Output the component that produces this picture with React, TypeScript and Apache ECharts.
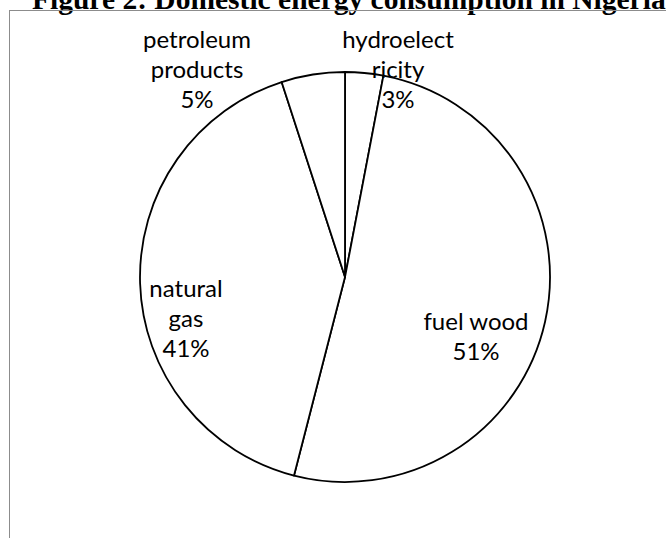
import React, { useEffect, useRef } from "react";
import * as echarts from "echarts";

const titleText = "Figure 2: Domestic energy consumption in Nigeria";
const categories = ["hydroelectricity", "fuel wood", "natural gas", "petroleum products"];
const labelTexts = ["hydroelect\nricity", "fuel wood", "natural\ngas", "petroleum\nproducts"];
const values = [3, 51, 41, 5];
const labelCenters: [number, number][] = [
  [398, 68],
  [476, 335],
  [186, 317],
  [197, 68],
];

export default function App() {
  const ref = useRef<HTMLDivElement>(null);
  useEffect(() => {
    if (!ref.current) return;
    const chart = echarts.init(ref.current, null, { renderer: "svg" });
    chart.setOption({
      animation: false,
      backgroundColor: "#ffffff",
      graphic: [
        {
          type: "text",
          x: 32,
          y: -16,
          style: {
            text: titleText,
            fill: "#000",
            font: "bold 29.5px 'Liberation Serif', 'Times New Roman', serif",
            verticalAlign: "top",
          },
          silent: true,
        },
        {
          type: "line",
          shape: { x1: 10, y1: 10.5, x2: 666, y2: 10.5 },
          style: { stroke: "#8c8c8c", lineWidth: 1 },
          silent: true,
        },
        {
          type: "line",
          shape: { x1: 9.5, y1: 10, x2: 9.5, y2: 538 },
          style: { stroke: "#8c8c8c", lineWidth: 1 },
          silent: true,
        },
      ],
      series: [
        {
          type: "pie",
          center: [345, 277],
          radius: [0, 205],
          startAngle: 90,
          clockwise: true,
          silent: true,
          itemStyle: { color: "#ffffff", borderColor: "#000000", borderWidth: 1.8 },
          label: {
            show: true,
            position: "inside",
            fontFamily: "Lato, 'Noto Sans', sans-serif",
            fontSize: 24,
            lineHeight: 30,
            color: "#000",
            align: "center",
            formatter: (p: any) => labelTexts[p.dataIndex] + "\n" + p.value + "%",
          },
          labelLine: { show: false },
          labelLayout: (p: any) => ({
            x: labelCenters[p.dataIndex][0],
            y: labelCenters[p.dataIndex][1],
            align: "center",
            verticalAlign: "middle",
          }),
          data: categories.map((c, i) => ({ name: c, value: values[i] })),
        },
      ],
    });
    return () => chart.dispose();
  }, []);
  return (
    <div
      ref={ref}
      style={{ position: "fixed", left: 0, top: 0, width: 666, height: 538 }}
    />
  );
}
